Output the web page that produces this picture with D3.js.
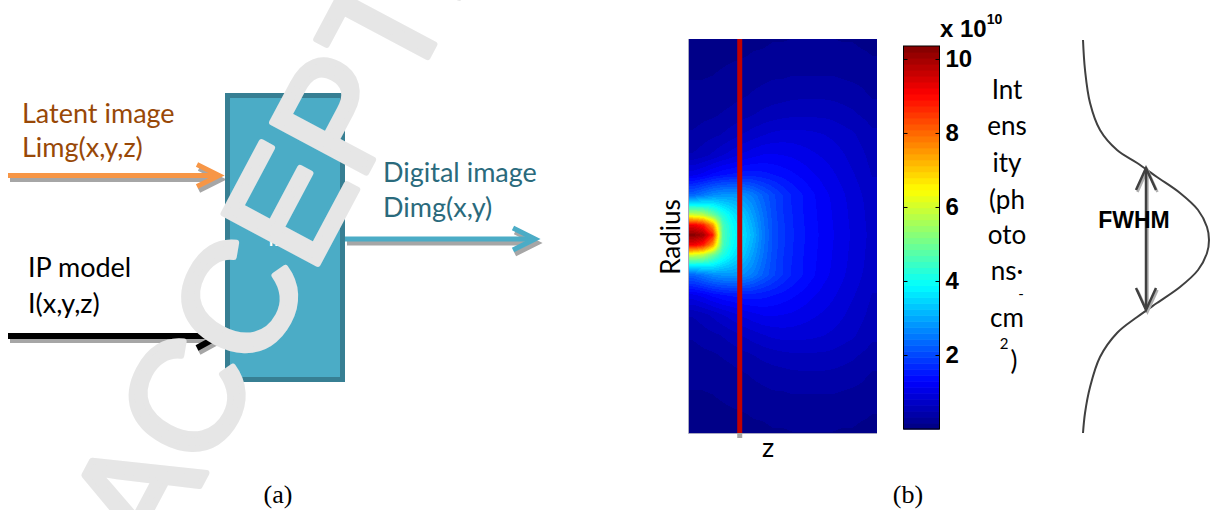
<!DOCTYPE html>
<html>
<head>
<meta charset="utf-8">
<script src="https://cdn.jsdelivr.net/npm/d3@7"></script>
<style>
  body { margin: 0; background: #fff; }
  svg { display: block; }
</style>
</head>
<body>
<svg id="fig"></svg>
<script>
// ---- data ----
// intensity map (x 10^10 photons/cm^2): rows = radius (top to bottom), cols = z (left to right)
const radiusRows = [1.0, 0.9, 0.8, 0.7, 0.6, 0.5, 0.4, 0.3, 0.2, 0.15, 0.1, 0.05, 0,
  -0.05, -0.1, -0.15, -0.2, -0.3, -0.4, -0.5, -0.6, -0.7, -0.8, -0.9, -1.0];
const zCols = d3.range(19);
const intensity = [
  [0.10,0.10,0.10,0.10,0.10,0.10,0.12,0.12,0.14,0.14,0.15,0.15,0.15,0.15,0.15,0.14,0.14,0.12,0.12],
  [0.12,0.12,0.12,0.13,0.14,0.15,0.17,0.18,0.20,0.20,0.22,0.22,0.22,0.22,0.22,0.20,0.20,0.18,0.16],
  [0.15,0.15,0.16,0.18,0.20,0.22,0.25,0.27,0.30,0.30,0.32,0.32,0.32,0.32,0.32,0.30,0.28,0.26,0.22],
  [0.20,0.20,0.22,0.24,0.27,0.30,0.34,0.38,0.40,0.42,0.44,0.45,0.45,0.45,0.44,0.42,0.40,0.36,0.30],
  [0.25,0.28,0.30,0.34,0.38,0.43,0.48,0.53,0.57,0.60,0.62,0.62,0.62,0.62,0.60,0.56,0.52,0.47,0.42],
  [0.35,0.40,0.45,0.50,0.58,0.66,0.73,0.80,0.85,0.88,0.88,0.87,0.85,0.82,0.78,0.73,0.68,0.60,0.52],
  [0.50,0.58,0.68,0.80,0.90,1.00,1.08,1.14,1.15,1.13,1.10,1.05,1.00,0.95,0.90,0.83,0.75,0.68,0.58],
  [1.10,1.20,1.35,1.45,1.50,1.55,1.56,1.52,1.47,1.40,1.33,1.25,1.16,1.08,1.00,0.92,0.83,0.75,0.64],
  [2.30,2.50,2.70,2.80,2.80,2.75,2.55,2.25,2.00,1.78,1.60,1.46,1.33,1.20,1.10,1.00,0.90,0.81,0.70],
  [3.90,3.90,3.80,3.50,3.30,3.05,2.75,2.35,2.02,1.78,1.60,1.46,1.34,1.22,1.12,1.02,0.92,0.83,0.72],
  [6.00,5.80,5.00,4.20,3.70,3.35,2.90,2.45,2.05,1.80,1.62,1.47,1.35,1.23,1.13,1.03,0.93,0.84,0.73],
  [9.20,8.80,7.50,4.60,3.90,3.50,3.05,2.50,2.08,1.82,1.63,1.48,1.36,1.24,1.14,1.04,0.94,0.85,0.74],
  [10.3,10.0,8.80,4.70,4.00,3.60,3.15,2.55,2.10,1.83,1.64,1.49,1.37,1.25,1.15,1.05,0.95,0.86,0.75],
  [9.20,8.80,7.50,4.60,3.90,3.50,3.05,2.50,2.08,1.82,1.63,1.48,1.36,1.24,1.14,1.04,0.94,0.85,0.74],
  [6.00,5.80,5.00,4.20,3.70,3.35,2.90,2.45,2.05,1.80,1.62,1.47,1.35,1.23,1.13,1.03,0.93,0.84,0.73],
  [3.90,3.90,3.80,3.50,3.30,3.05,2.75,2.35,2.02,1.78,1.60,1.46,1.34,1.22,1.12,1.02,0.92,0.83,0.72],
  [2.30,2.50,2.70,2.80,2.80,2.75,2.55,2.25,2.00,1.78,1.60,1.46,1.33,1.20,1.10,1.00,0.90,0.81,0.70],
  [1.10,1.20,1.35,1.45,1.50,1.55,1.56,1.52,1.47,1.40,1.33,1.25,1.16,1.08,1.00,0.92,0.83,0.75,0.64],
  [0.50,0.58,0.68,0.80,0.90,1.00,1.08,1.14,1.15,1.13,1.10,1.05,1.00,0.95,0.90,0.83,0.75,0.68,0.58],
  [0.35,0.40,0.45,0.50,0.58,0.66,0.73,0.80,0.85,0.88,0.88,0.87,0.85,0.82,0.78,0.73,0.68,0.60,0.52],
  [0.25,0.28,0.30,0.34,0.38,0.43,0.48,0.53,0.57,0.60,0.62,0.62,0.62,0.62,0.60,0.56,0.52,0.47,0.42],
  [0.20,0.20,0.22,0.24,0.27,0.30,0.34,0.38,0.40,0.42,0.44,0.45,0.45,0.45,0.44,0.42,0.40,0.36,0.30],
  [0.15,0.15,0.16,0.18,0.20,0.22,0.25,0.27,0.30,0.30,0.32,0.32,0.32,0.32,0.32,0.30,0.28,0.26,0.22],
  [0.12,0.12,0.12,0.13,0.14,0.15,0.17,0.18,0.20,0.20,0.22,0.22,0.22,0.22,0.22,0.20,0.20,0.18,0.16],
  [0.10,0.10,0.10,0.10,0.10,0.10,0.12,0.12,0.14,0.14,0.15,0.15,0.15,0.15,0.15,0.14,0.14,0.12,0.12]
];
const cmax = 10.35;
const cbarTicks = [2, 4, 6, 8, 10];
const jetStops = [0, 0.125, 0.375, 0.625, 0.875, 1];
const jetColors = ["#000080", "#0000ff", "#00ffff", "#ffff00", "#ff0000", "#800000"];
const sliceZ = 4.7;   // position of the red line (column units)

// gaussian profile beside the map
const profR = [1.0, 0.85, 0.685, 0.55, 0.45, 0.385, 0.315, 0.235, 0.15, 0.065, 0, -0.065, -0.15, -0.235, -0.315, -0.385, -0.465, -0.585, -0.735, -0.865, -0.965];
const profI = [0, 0.016, 0.056, 0.135, 0.27, 0.43, 0.587, 0.77, 0.913, 0.984, 1.0, 0.984, 0.913, 0.77, 0.587, 0.43, 0.27, 0.135, 0.056, 0.016, 0];
const fwhmR = [0.36, -0.35];

const W = 1213, H = 510;
const svg = d3.select('#fig').attr('width', W).attr('height', H);
const calibri = "Lato, 'Open Sans', sans-serif";
const arial = "'Liberation Sans', Arial, sans-serif";

// ================= panel (a) =================
const pa = svg.append('g');

// arrow with a grey drop shadow
function arrow(g, x1, x2, y, col, w, headX, headDy) {
  const sh = g.append('g').attr('transform', 'translate(2,4)');
  [sh, g].forEach((gg, k) => {
    const c = k === 0 ? '#a6a6a6' : col;
    gg.append('line').attr('x1', x1).attr('x2', x2).attr('y1', y).attr('y2', y)
      .attr('stroke', c).attr('stroke-width', w);
    gg.append('path')
      .attr('d', `M${headX - 22},${y - headDy}L${headX},${y}L${headX - 22},${y + headDy}`)
      .attr('fill', 'none').attr('stroke', c).attr('stroke-width', w).attr('stroke-linejoin', 'miter');
  });
}
arrow(pa, 8, 216, 175.5, '#f79646', 5, 219, 11);
arrow(pa, 8, 212, 336, '#000000', 6, 219, 12);

pa.append('rect').attr('x', 227.5).attr('y', 95.5).attr('width', 115).attr('height', 284)
  .attr('fill', '#4bacc6').attr('stroke', '#377f93').attr('stroke-width', 5);
arrow(pa, 345, 532, 239, '#4bacc6', 5, 535, 11);

pa.append('text').attr('x', 268).attr('y', 246).attr('fill', '#fff')
  .attr('font-family', calibri).attr('font-size', 22).text('I2');

const txt = (x, y, s, col) => pa.append('text').attr('x', x).attr('y', y).attr('fill', col)
  .attr('font-family', calibri).attr('font-size', 27).text(s);
txt(22, 123, 'Latent image', '#984807');
txt(22, 157, 'Limg(x,y,z)', '#984807');
txt(383, 182, 'Digital image', '#2a6a7c');
txt(383, 217, 'Dimg(x,y)', '#2a6a7c');
txt(28, 277, 'IP model', '#000');
txt(28, 313, 'I(x,y,z)', '#000');

// ================= panel (b) =================
const hm = {x0: 688, x1: 877, y0: 39, y1: 433};
const zScale = d3.scaleLinear().domain([-0.5, zCols.length - 0.5]).range([hm.x0, hm.x1]);
const rScale = d3.scaleLinear().domain([1, -1]).range([35, 435]);
const jet = d3.scaleLinear().domain(jetStops.map(t => t * cmax)).range(jetColors).clamp(true);

// shaded (interpolated) pcolor, 64-colour map like the original
const rowY = radiusRows.map(r => rScale(r));
const rowIdx = d3.scaleLinear().domain(rowY).range(d3.range(radiusRows.length)).clamp(true);
const colIdx = d3.scaleLinear().domain([zScale(0), zScale(zCols.length - 1)]).range([0, zCols.length - 1]).clamp(true);
const pw = hm.x1 - hm.x0, ph = hm.y1 - hm.y0;
const cv = document.createElement('canvas');
cv.width = pw; cv.height = ph;
const ctx = cv.getContext('2d');
const img = ctx.createImageData(pw, ph);
for (let py = 0; py < ph; py++) {
  const fr = rowIdx(hm.y0 + py + 0.5);
  const r0 = Math.min(Math.floor(fr), radiusRows.length - 2), tr = fr - r0;
  for (let px = 0; px < pw; px++) {
    const fc = colIdx(hm.x0 + px + 0.5);
    const c0 = Math.min(Math.floor(fc), zCols.length - 2), tc = fc - c0;
    const a = intensity[r0][c0] * (1 - tc) + intensity[r0][c0 + 1] * tc;
    const b = intensity[r0 + 1][c0] * (1 - tc) + intensity[r0 + 1][c0 + 1] * tc;
    let v = a * (1 - tr) + b * tr;
    v = (Math.min(Math.floor(v / cmax * 64), 63) + 0.5) * cmax / 64;
    const c = d3.rgb(jet(v));
    const k = 4 * (py * pw + px);
    img.data[k] = c.r; img.data[k + 1] = c.g; img.data[k + 2] = c.b; img.data[k + 3] = 255;
  }
}
ctx.putImageData(img, 0, 0);
svg.append('image')
  .attr('href', cv.toDataURL())
  .attr('x', hm.x0).attr('y', hm.y0).attr('width', pw).attr('height', ph)
  .attr('preserveAspectRatio', 'none');

// faint frame on left and bottom
svg.append('path').attr('d', `M${hm.x0 + 0.5},${hm.y0}V${hm.y1 + 0.5}H${hm.x1}`)
  .attr('fill', 'none').attr('stroke', '#a8a8c0').attr('stroke-width', 1);

// red slice line + grey tick under it
svg.append('line').attr('x1', zScale(sliceZ)).attr('x2', zScale(sliceZ))
  .attr('y1', hm.y0).attr('y2', hm.y1).attr('stroke', '#c00000').attr('stroke-width', 5);
svg.append('line').attr('x1', zScale(sliceZ)).attr('x2', zScale(sliceZ))
  .attr('y1', hm.y1).attr('y2', hm.y1 + 5).attr('stroke', '#a6a6a6').attr('stroke-width', 5);

svg.append('text').attr('transform', `translate(680,237) rotate(-90)`)
  .attr('text-anchor', 'middle').attr('font-family', calibri).attr('font-size', 26).text('Radius');
svg.append('text').attr('x', 768).attr('y', 457).attr('text-anchor', 'middle')
  .attr('font-family', calibri).attr('font-size', 27).text('z');

// colour bar
const cb = {x: 903.5, w: 36, y0: 46, y1: 429};
const cScale = d3.scaleLinear().domain([0, cmax]).range([cb.y1, cb.y0]);
const nBands = 64;
svg.append('g').selectAll('rect').data(d3.range(nBands)).join('rect')
  .attr('x', cb.x).attr('width', cb.w)
  .attr('y', d => cScale((d + 1) * cmax / nBands))
  .attr('height', d => cScale(d * cmax / nBands) - cScale((d + 1) * cmax / nBands) + 0.6)
  .attr('fill', d => jet((d + 0.5) * cmax / nBands));
svg.append('rect').attr('x', cb.x).attr('y', cb.y0).attr('width', cb.w).attr('height', cb.y1 - cb.y0)
  .attr('fill', 'none').attr('stroke', '#000').attr('stroke-width', 1);

const axR = svg.append('g').attr('transform', `translate(${cb.x + cb.w},0)`)
  .call(d3.axisRight(cScale).tickValues(cbarTicks).tickSizeInner(-4).tickSizeOuter(0).tickPadding(6));
axR.select('.domain').remove();
axR.selectAll('text').attr('font-family', arial)
  .attr('font-size', 24).attr('font-weight', 'bold').attr('fill', '#000');
const axL = svg.append('g').attr('transform', `translate(${cb.x},0)`)
  .call(d3.axisRight(cScale).tickValues(cbarTicks).tickSize(4).tickFormat(''));
axL.select('.domain').remove();

const exp = svg.append('text').attr('x', 940).attr('y', 37)
  .attr('font-family', arial).attr('font-weight', 'bold').attr('font-size', 24);
exp.append('tspan').text('x 10');
exp.append('tspan').attr('dy', -13).attr('font-size', 14).text('10');

// colour bar title, wrapped as in the picture
const unitLines = [
  {s: 'Int', x: 1007, y: 99}, {s: 'ens', x: 1007, y: 135}, {s: 'ity', x: 1007, y: 172},
  {s: '(ph', x: 1007, y: 209}, {s: 'oto', x: 1007, y: 244}, {s: 'ns·', x: 1007, y: 280},
  {s: 'cm', x: 1007, y: 327}, {s: ')', x: 1014, y: 370}
];
svg.append('g').selectAll('text').data(unitLines).join('text')
  .attr('x', d => d.x).attr('y', d => d.y).attr('text-anchor', 'middle')
  .attr('font-family', calibri).attr('font-size', 26).text(d => d.s);
svg.append('text').attr('x', 1021).attr('y', 299).attr('text-anchor', 'middle')
  .attr('font-family', calibri).attr('font-size', 15).text('-');
svg.append('text').attr('x', 1004).attr('y', 349).attr('text-anchor', 'middle')
  .attr('font-family', calibri).attr('font-size', 15).text('2');

// gaussian profile with FWHM arrow
const iScale = d3.scaleLinear().domain([0, 1]).range([1083, 1209]);
const prR = d3.scaleLinear().domain([1, -1]).range([40, 440]);
const prof = profR.map((r, i) => [iScale(profI[i]), prR(r)]);
svg.append('path').attr('d', d3.line().curve(d3.curveCatmullRom)(prof))
  .attr('fill', 'none').attr('stroke', '#404040').attr('stroke-width', 2);

const ax = iScale(0.5), ya = prR(fwhmR[0]), yb = prR(fwhmR[1]);
[['#b0b0b0', 1.5, 2], ['#404040', 0, 0]].forEach(([c, dx, dy]) => {
  const g = svg.append('g').attr('transform', `translate(${dx},${dy})`)
    .attr('fill', 'none').attr('stroke', c).attr('stroke-width', 2.5);
  g.append('line').attr('x1', ax).attr('x2', ax).attr('y1', ya + 1).attr('y2', yb - 1);
  g.append('path').attr('d', `M${ax - 10},${ya + 22}L${ax},${ya}L${ax + 10},${ya + 22}`);
  g.append('path').attr('d', `M${ax - 10},${yb - 22}L${ax},${yb}L${ax + 10},${yb - 22}`);
});
svg.append('text').attr('x', 1134).attr('y', 228).attr('text-anchor', 'middle')
  .attr('font-family', arial).attr('font-weight', 'bold')
  .attr('font-size', 23).text('FWHM');

// sub-figure labels
svg.append('text').attr('x', 278).attr('y', 503).attr('text-anchor', 'middle')
  .attr('font-family', "'Liberation Serif', 'Times New Roman', serif").attr('font-size', 26).text('(a)');
svg.append('text').attr('x', 908).attr('y', 503).attr('text-anchor', 'middle')
  .attr('font-family', "'Liberation Serif', 'Times New Roman', serif").attr('font-size', 26).text('(b)');

// watermark
svg.append('text').attr('transform', 'translate(158,564) rotate(-62)')
  .attr('font-family', arial).attr('font-size', 155)
  .attr('fill', '#e6e6e6').attr('stroke', '#e6e6e6').attr('stroke-width', 6)
  .attr('stroke-linejoin', 'round').text('ACCEPTED');
</script>
</body>
</html>
